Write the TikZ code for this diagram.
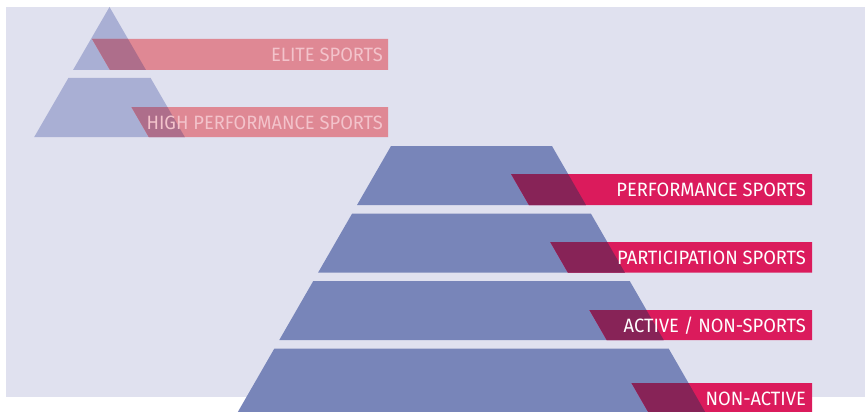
\documentclass[tikz,border=0pt]{standalone}
\usepackage{fontspec}
\setmainfont{Fira Sans}[FakeStretch=0.95]
\definecolor{backdrop}{HTML}{E0E1EF}
\definecolor{layerblue}{HTML}{7885B9}
\definecolor{barpink}{HTML}{DB1B5C}
\definecolor{overlapplum}{HTML}{872357}
\definecolor{fadedblue}{HTML}{A9AFD4}
\definecolor{fadedpink}{HTML}{DF8894}
\definecolor{fadedplum}{HTML}{AE6E8B}
\definecolor{fadedtext}{HTML}{F3C3CB}
\begin{document}
\begin{tikzpicture}
	[
	x=1pt, y=-1pt,
	every node/.style={inner sep=0pt, anchor=base east, font=\fontsize{19.3}{19.3}\selectfont},
	label/.style={text=white},
	fadedlabel/.style={text=fadedtext}
	]
		\useasboundingbox (0,0) rectangle (868,412);
		\clip (0,0) rectangle (868,412);
		\fill [backdrop] (6,7) rectangle (865,397);

		% small pyramid (faded)
		\fill [fadedblue] (109.5,7) -- ({109.5+0.579*63},70) -- ({109.5-0.579*63},70) -- cycle;
		\fill [fadedblue] ({109.5-0.579*71},78) -- ({109.5+0.579*71},78) -- ({109.5+0.579*130},137) -- ({109.5-0.579*130},137) -- cycle;
		\foreach \u/\v in {39/70,107/137} {
			\fill [fadedpink] ({109.5+0.579*(\u-7)-36},\u) -- (388,\u) -- (388,\v) -- ({109.5+0.579*(\v-7)-36},\v) -- cycle;
		}
		\begin{scope}
			\clip (109.5,7) -- ({109.5+0.579*63},70) -- ({109.5-0.579*63},70) -- cycle;
			\fill [fadedplum] ({109.5+0.579*32-36},39) -- (388,39) -- (388,70) -- ({109.5+0.579*63-36},70) -- cycle;
		\end{scope}
		\begin{scope}
			\clip ({109.5-0.579*71},78) -- ({109.5+0.579*71},78) -- ({109.5+0.579*130},137) -- ({109.5-0.579*130},137) -- cycle;
			\fill [fadedplum] ({109.5+0.579*100-36},107) -- (388,107) -- (388,137) -- ({109.5+0.579*130-36},137) -- cycle;
		\end{scope}

		% big pyramid
		\foreach \t/\b/\u in {146/205/174,213.5/272.5/242,281/340/310,348.5/414/383} {
			\fill [layerblue] ({471.5-0.576*(\t-6.3)},\t) -- ({471.5+0.576*(\t-6.3)},\t) -- ({471.5+0.576*(\b-6.3)},\b) -- ({471.5-0.576*(\b-6.3)},\b) -- cycle;
			\fill [barpink] ({471.5+0.576*(\u-6.3)-57},\u) -- (812,\u) -- (812,\b) -- ({471.5+0.576*(\b-6.3)-57},\b) -- cycle;
			\begin{scope}
				\clip ({471.5-0.576*(\t-6.3)},\t) -- ({471.5+0.576*(\t-6.3)},\t) -- ({471.5+0.576*(\b-6.3)},\b) -- ({471.5-0.576*(\b-6.3)},\b) -- cycle;
				\fill [overlapplum] ({471.5+0.576*(\u-6.3)-57},\u) -- (812,\u) -- (812,\b) -- ({471.5+0.576*(\b-6.3)-57},\b) -- cycle;
			\end{scope}
		}

		% labels
		\node [fadedlabel] (elite) at (383,61.5) {ELITE SPORTS};
		\node [fadedlabel] (high) at (383,129) {HIGH PERFORMANCE SPORTS};
		\node [label] (perf) at (806,196.5) {PERFORMANCE SPORTS};
		\node [label] (part) at (806,264) {PARTICIPATION SPORTS};
		\node [label] (active) at (806,332) {ACTIVE / NON-SPORTS};
		\node [label] (nonactive) at (806,405) {NON-ACTIVE};
	\end{tikzpicture}
\end{document}
